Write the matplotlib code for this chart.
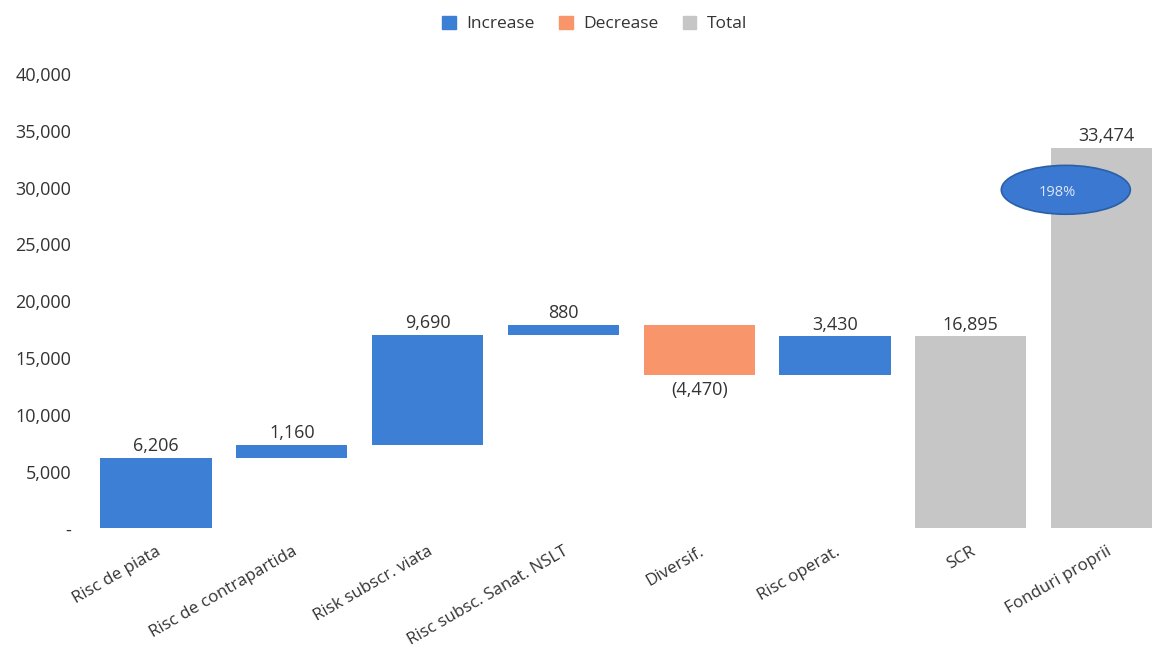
import matplotlib
matplotlib.use("Agg")
import matplotlib.pyplot as plt
from matplotlib.patches import Ellipse, Patch
from matplotlib.ticker import FuncFormatter

plt.rcParams['font.family'] = ['Open Sans', 'DejaVu Sans']

categories = ["Risc de piata", "Risc de contrapartida", "Risk subscr. viata",
              "Risc subsc. Sanat. NSLT", "Diversif.", "Risc operat.", "SCR", "Fonduri proprii"]
changes = [6206, 1160, 9690, 880, -4470, 3430]
totals = {"SCR": 16895, "Fonduri proprii": 33474}
ratio_label = "198%"
yticks = [0, 5000, 10000, 15000, 20000, 25000, 30000, 35000, 40000]

c_inc = "#3c7fd5"
c_dec = "#f9956a"
c_tot = "#c6c6c6"
txt = "#333333"

fig = plt.figure(figsize=(11.52, 6.54), dpi=100)
ax = fig.add_axes([0.0765, 0.192, 0.943, 0.695])

bw = 0.82
running = 0
for i, v in enumerate(changes):
    if v >= 0:
        bottom = running
        color = c_inc
    else:
        bottom = running + v
        color = c_dec
    ax.bar(i, abs(v), bottom=bottom, width=bw, color=color)
    if v >= 0:
        ax.text(i, running + v + 250, f"{v:,}", ha='center', va='bottom', fontsize=13, color=txt)
    else:
        ax.text(i, running + v - 500, f"({abs(v):,})", ha='center', va='top', fontsize=13, color=txt)
    running += v

for j, name in enumerate(["SCR", "Fonduri proprii"]):
    i = len(changes) + j
    val = totals[name]
    ax.bar(i, val, width=bw, color=c_tot)
    ax.text(i, val + 250, f"{val:,}", ha='center', va='bottom', fontsize=13, color=txt)

ell = Ellipse((6.70, 29800), width=0.95, height=4300, facecolor="#3a78d2",
              edgecolor="#2b5fa6", linewidth=1.2, zorder=5)
ax.add_patch(ell)
ax.text(6.64, 29550, ratio_label, ha='center', va='center', fontsize=10.5,
        color='#dce8f8', zorder=6)

ax.set_xlim(-0.5, 7.5)
ax.set_ylim(0, 40000)
ax.set_yticks(yticks)
ax.yaxis.set_major_formatter(FuncFormatter(lambda y, p: "-" if y == 0 else f"{int(y):,}"))
ax.set_xticks(range(len(categories)))
ax.set_xticklabels(categories, rotation=30, ha='right', rotation_mode='anchor', fontsize=12.2)
for s in ax.spines.values():
    s.set_visible(False)
ax.tick_params(axis='both', length=0, colors=txt)
ax.tick_params(axis='y', labelsize=13, pad=12)
ax.tick_params(axis='x', pad=11)

handles = [Patch(color=c_inc, label="Increase"), Patch(color=c_dec, label="Decrease"),
           Patch(color=c_tot, label="Total")]
fig.legend(handles=handles, loc='upper center', bbox_to_anchor=(0.516, 1.0), ncol=3,
           frameon=False, fontsize=12.5, handlelength=0.8, handleheight=0.8,
           columnspacing=1.4, handletextpad=0.6, labelcolor=txt)

fig.savefig("out.png", dpi=100)
